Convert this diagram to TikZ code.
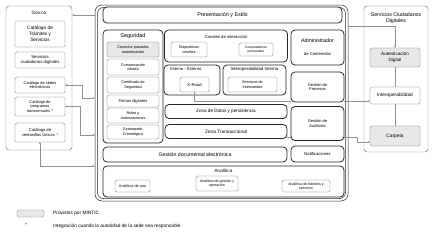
\documentclass[tikz,border=0pt]{standalone}
\usepackage{fontspec}
\setmainfont{Liberation Sans}
\usetikzlibrary{arrows.meta}
\definecolor{lnkcol}{RGB}{145,145,145}
\tikzset{
  lnk/.style={draw=lnkcol, line width=0.4pt},
  lnkarr/.style={lnk, -{Stealth[length=2.4pt,width=2pt]}},
  lnkdarr/.style={lnk, {Stealth[length=2.4pt,width=2pt]}-{Stealth[length=2.4pt,width=2pt]}}
}
\begin{document}
\begin{tikzpicture}[x=1pt,y=-1pt,
  wh/.style 2 args={minimum width=#1pt, minimum height=#2pt},
  fs/.code={\pgfmathsetmacro\myls{#1*1.22}\edef\mytmp{\noexpand\fontsize{#1}{\myls}\noexpand\selectfont}\tikzset{font/.expand once=\mytmp}},
  panel/.style={draw=black!85, line width=0.8pt, rounded corners=4pt, fill=white, inner sep=0pt, outer sep=0pt, align=center},
  sbox/.style={draw=black!60, line width=0.35pt, rounded corners=1.5pt, fill=white, inner sep=0pt, outer sep=0pt, align=center, fs=3.8},
  gbox/.style={sbox, fill=black!9},
  side/.style={draw=black!55, line width=0.45pt, rounded corners=3pt, fill=white, inner sep=0pt, outer sep=0pt},
  frm/.style={draw=black!85, line width=0.5pt, inner sep=0pt, outer sep=0pt},
  ttl/.style={inner sep=0pt, align=center, fs=#1}
]
\useasboundingbox (0,0) rectangle (434,236);

% ---------- Gov.co panel ----------
\node[side, wh={66}{144}] (govco) at (39,78) {};
\node[ttl=4.7] (govtitle) at (39,13) {Gov.co};
\node[sbox, wh={50}{26}, fs=4.8] (tram) at (40,34) {Catálogo de\\Trámites y\\Servicios};
\node[sbox, wh={50}{16}, fs=4.3] (scdg) at (40,60) {Servicios\\ciudadanos digitales};
\node[sbox, wh={50}{16}, fs=3.9] (sedes) at (40,85) {Catálogo de sedes\\electrónicas};
\node[sbox, wh={50}{19}, fs=3.9] (prog) at (40,106.5) {Catálogo de\\programas\\transversales \,*};
\node[sbox, wh={50}{19}, fs=4.1] (vent) at (40,132.5) {Catálogo de\\ventanillas Únicas \,*};

% ---------- Main frame (double outline) ----------
\node[frm, rounded corners=7pt, wh={253}{196}] (frame) at (221.5,103) {};
\node[frm, rounded corners=6pt, wh={248}{191}] (framein) at (221.5,103) {};
\node[panel, wh={239}{16}, fs=5.4] (pres) at (222.5,15) {Presentación y Estilo};

% Seguridad
\node[panel, wh={60}{113}] (seg) at (133,86.5) {};
\node[ttl=5.5] (segt) at (133,36) {Seguridad};
\node[gbox, wh={52}{15}] (conector) at (133,49.5) {Conector pasarela\\autenticación};
\node[sbox, wh={52}{16}] (cifr) at (133,67) {Comunicación\\cifrada};
\node[sbox, wh={52}{16}] (cert) at (133,85) {Certificado de\\Seguridad};
\node[sbox, wh={52}{12}, fs=4.1] (firm) at (133,101) {Firmas digitales};
\node[sbox, wh={52}{15}] (roles) at (133,115.5) {Roles y\\Autorizaciones};
\node[sbox, wh={52}{14}] (estamp) at (133,132) {Estampado\\Cronológico};

% Canales
\node[panel, wh={123}{32}] (canal) at (226,46) {};
\node[ttl=4.2] (canalt) at (226,37) {Canales de interacción};
\node[sbox, wh={36}{15}] (movil) at (189,49.5) {Dispositivos\\móviles};
\node[sbox, wh={34}{13}, fs=3.4] (pc) at (256,49.5) {Computadores\\personales};

% Interno - Externo
\node[panel, wh={56}{30}] (intext) at (192,80) {};
\node[ttl=4.2, anchor=west] (intextt) at (170,69.5) {Interno - Externo};
\node[sbox, wh={29}{15}, fs=4.2] (xroad) at (194.5,84.5) {X-Road};

% Interoperabilidad interna
\node[panel, wh={63}{30}] (intint) at (254.5,80) {};
\node[ttl=4.4] (intintt) at (254.5,69.5) {Interoperabilidad Interna};
\node[sbox, wh={49}{15}] (serv) at (252.5,84.5) {Servicios de\\Intercambio};

% Zonas
\node[panel, wh={122}{14}, fs=4.6] (zdatos) at (226,111.5) {Zona de Datos y persistencia};
\node[panel, wh={122}{14}, fs=4.8] (ztrans) at (226,131.5) {Zona Transaccional};
\node[panel, wh={184}{15}, fs=5.2] (gdoc) at (195,154.5) {Gestión documental electrónica};

% Right column inside frame
\node[panel, wh={53}{35}] (admin) at (317.5,47.5) {\fontsize{5.3}{8}\selectfont Administrador\\[1pt]\fontsize{4.2}{6}\selectfont de Contenidos};
\node[panel, wh={53}{30}, fs=4] (gproc) at (317.5,87) {Gestión de\\Procesos};
\node[panel, wh={53}{34}, fs=4] (gaud) at (317.5,123.5) {Gestión de\\Auditoría};
\node[panel, wh={53}{16}, fs=4.2] (notif) at (317.5,154) {Notificaciones};

% Analitica
\node[panel, wh={241}{31}] (anal) at (223.5,181.5) {};
\node[ttl=4.6] (analt) at (223.5,171) {Analítica};
\node[sbox, wh={35}{12}] (uso) at (132.5,186) {Analítica de uso};
\node[sbox, wh={42}{15}, fs=3.6] (agest) at (217,183.5) {Analítica de gestión y\\operación};
\node[sbox, wh={48}{12}, fs=3.6] (atram) at (306,186) {Analítica de trámites y\\servicios};

% ---------- Servicios Ciudadanos Digitales ----------
\node[side, wh={64}{146}] (scd) at (396,79) {};
\node[ttl=5.2] (scdt) at (396,18) {Servicios Ciudadanos\\Digitales};
\node[gbox, wh={50}{19}, fs=4.6] (autent) at (395,57.5) {Autenticación\\Digital};
\node[sbox, wh={50}{17}, fs=4.8] (interop) at (395,95.5) {Interoperabilidad};
\node[gbox, wh={50}{20}, fs=4.8] (carpeta) at (395,136) {Carpeta};

% ---------- Connectors ----------
\coordinate (fw15) at (95,15);
\coordinate (fw98) at (95,98);
\coordinate (fw135) at (95,135);
\coordinate (fw166) at (95,166);
\coordinate (fe26) at (348,26);
\path[lnkarr] (fw15) -- (govco.east |- fw15);
\path[lnkdarr] (sedes.east) -| (82,98) -- (fw98);
\path[lnkdarr] (prog.east) -| (80,135) -- (fw135);
\path[lnkdarr] (vent.south) |- (fw166);
\path[lnkarr] (fe26) -| (autent.north);
\path[lnk] (autent.south) -- (interop.north);
\path[lnk] (interop.south) -- (carpeta.north);
\coordinate (xr1) at (194.5,101);
\path[lnk] (xroad.south) -- (xr1) -- (gproc.west |- xr1);
\path[lnkarr] (gproc.east |- xr1) -- (interop.west |- xr1);
\coordinate (zt1) at (287,137);
\coordinate (zt2) at (357,137);
\coordinate (zt3) at (357,142);
\path[lnk] (ztrans.east |- zt1) -- (gaud.west |- zt1);
\path[lnkarr] (gaud.east |- zt1) -- (zt2) -- (zt3) -- (carpeta.west |- zt3);

% ---------- Legend ----------
\node[gbox, wh={27}{7}, draw=black!50] (leg) at (30.5,213.5) {};
\node[ttl=4.8, anchor=west] (legt) at (53,213.5) {Provistos por MINTIC};
\node[ttl=4.8] (star) at (26,225) {*};
\node[ttl=4.8, anchor=west] (legs) at (53,226) {Integración cuando la autoridad de la sede sea responsable};
\end{tikzpicture}
\end{document}
